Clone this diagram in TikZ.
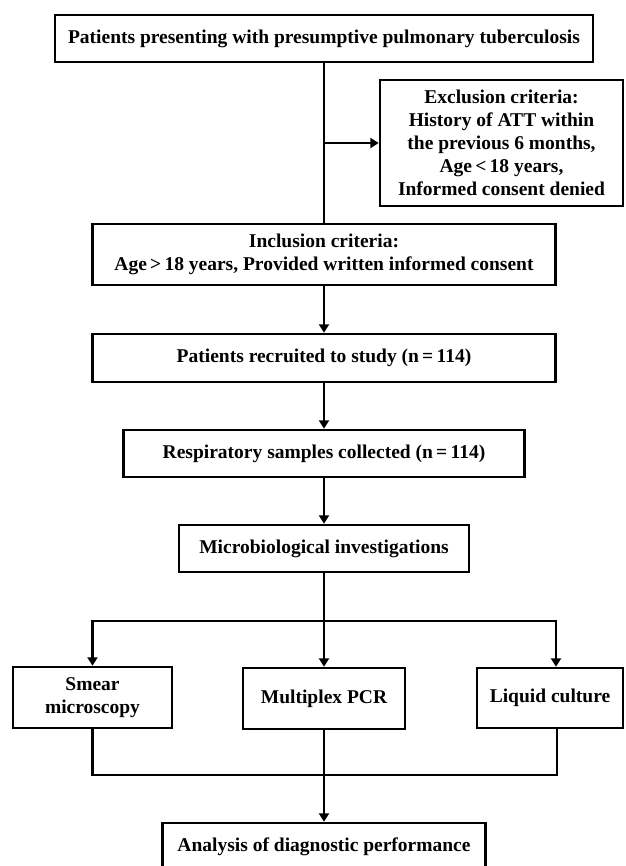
\documentclass[tikz,border=0pt]{standalone}
\usepackage{fontspec}
\setmainfont{Liberation Serif}
\usetikzlibrary{arrows.meta}
\begin{document}
\begin{tikzpicture}[x=1pt,y=-1pt,
  fbox/.style={draw, line width=2.5pt, inner sep=0pt, align=center,
    font=\fontsize{19.5}{23}\selectfont\bfseries},
  link/.style={line width=2.5pt},
  arr/.style={line width=2.5pt, -{Triangle[length=8.5pt,width=10pt]}}]
\useasboundingbox (0,0) rectangle (625,866);
\node[fbox, minimum width=538pt, minimum height=47pt] (top) at (324,38.5)
  {Patients presenting with presumptive pulmonary tuberculosis};
\node[fbox, minimum width=243pt, minimum height=126pt] (excl) at (501.5,143)
  {Exclusion criteria:\\History of ATT within\\the previous 6 months,\\Age\,<\,18 years,\\Informed consent denied};
\node[fbox, minimum width=463pt, minimum height=61pt] (incl) at (324,254.5)
  {Inclusion criteria:\\Age\,>\,18 years, Provided written informed consent};
\node[fbox, minimum width=463pt, minimum height=48pt] (recr) at (324,358)
  {Patients recruited to study (n\,=\,114)};
\node[fbox, minimum width=401pt, minimum height=47pt] (resp) at (324,453.5)
  {Respiratory samples collected (n\,=\,114)};
\node[fbox, minimum width=290pt, minimum height=47pt] (micro) at (324,548.5)
  {Microbiological investigations};
\node[fbox, minimum width=159pt, minimum height=61pt] (smear) at (92.5,697.5)
  {Smear\\microscopy};
\node[fbox, minimum width=162pt, minimum height=61pt] (multi) at (324,698.5)
  {Multiplex PCR};
\node[fbox, minimum width=146pt, minimum height=60pt] (liquid) at (550,698)
  {Liquid culture};
\node[fbox, minimum width=323pt, minimum height=48pt] (anal) at (324,847)
  {Analysis of diagnostic performance};
\coordinate (b) at (324,621);
\coordinate (bl) at (92.5,621);
\coordinate (br) at (556,621);
\coordinate (ml) at (92.5,775);
\coordinate (m) at (324,775);
\coordinate (mr) at (557,775);
\draw[link] (top.south) -- (incl.north);
\draw[arr] (top.south |- excl.west) -- (excl.west);
\draw[arr] (incl.south) -- (recr.north);
\draw[arr] (recr.south) -- (resp.north);
\draw[arr] (resp.south) -- (micro.north);
\draw[link] (micro.south) -- (b);
\draw[link, line cap=rect] (bl) -- (br);
\draw[arr] (bl) -- (smear.north);
\draw[arr] (b) -- (multi.north);
\draw[arr] (br) -- (br |- liquid.north);
\draw[link, line join=miter] (smear.south) -- (ml) -- (mr) -- (mr |- liquid.south);
\draw[arr] (multi.south) -- (anal.north);
\end{tikzpicture}
\end{document}
